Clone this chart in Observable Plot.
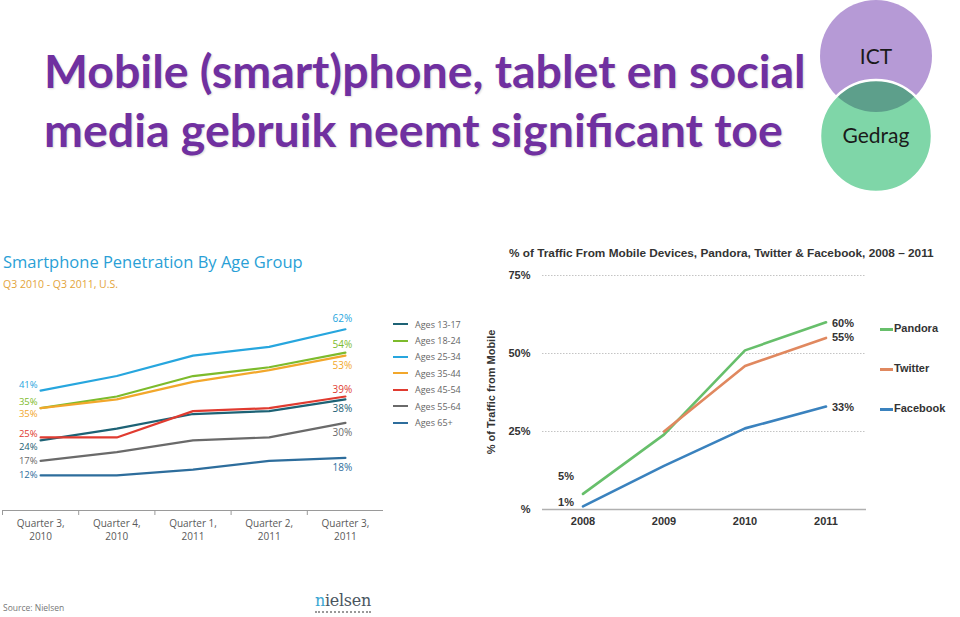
<!DOCTYPE html>
<html>
<head>
<meta charset="utf-8">
<script src="https://cdn.jsdelivr.net/npm/d3@7"></script>
<script src="https://cdn.jsdelivr.net/npm/@observablehq/plot@0.6"></script>
<style>
  html, body { margin: 0; padding: 0; background: #fff; }
  #page { position: relative; width: 960px; height: 617px; overflow: hidden; background: #fff; }
  .abs { position: absolute; }
  #title { left: 44px; top: 41px; font-family: Lato, sans-serif; font-weight: 700; font-size: 46.5px; line-height: 59px; color: #7030a0; text-shadow: 1px 1px 2px rgba(0,0,0,0.15); white-space: nowrap; }
  #ltitle { left: 3px; top: 250px; font-family: "Open Sans", sans-serif; font-size: 16.5px; color: #2a9fd6; white-space: nowrap; }
  #lsub { left: 3px; top: 277px; font-family: "Open Sans", sans-serif; font-size: 10.5px; color: #e3a43a; white-space: nowrap; }
  #lleg { left: 393px; top: 316px; font-family: "Open Sans", sans-serif; font-size: 9px; color: #666; }
  #lleg div, #rleg div { display: flex; align-items: center; white-space: nowrap; }
  #lleg div { height: 16.4px; }
  #lleg span.sw { display: inline-block; width: 15px; height: 2px; margin-right: 7px; }
  #rtitle { left: 509px; top: 246px; font-family: "Liberation Sans", Arial, sans-serif; font-weight: 700; font-size: 11.8px; color: #333; white-space: nowrap; }
  #rylabel { left: 491px; top: 392px; font-family: "Liberation Sans", Arial, sans-serif; font-weight: 700; font-size: 11px; color: #333; white-space: nowrap; transform: translate(-50%, -50%) rotate(-90deg); }
  #rleg { left: 880px; top: 322px; font-family: "Liberation Sans", Arial, sans-serif; font-weight: 700; font-size: 11px; color: #333; }
  #rleg div { height: 40px; align-items: flex-start; }
  #rleg span.sw { display: inline-block; width: 13px; height: 2.5px; margin-top: 6px; margin-right: 1px; }
  #source { left: 3px; top: 602px; font-family: "Open Sans", sans-serif; font-size: 8.5px; color: #777; }
  #logo { left: 315px; top: 592px; font-family: "DejaVu Serif", "Liberation Serif", serif; font-size: 16px; color: #4a5560; letter-spacing: -0.3px; border-bottom: 2px dotted #999; line-height: 18px; padding-bottom: 1px; }
  #logo .n { color: #3aa6d3; }
</style>
</head>
<body>
<div id="page">
  <div id="title" class="abs">Mobile (smart)phone, tablet en social<br>media gebruik neemt significant toe</div>

  <svg class="abs" style="left:804px;top:0" width="150" height="200">
    <defs>
      <clipPath id="clipG"><circle cx="72" cy="136" r="56"/></clipPath>
    </defs>
    <circle cx="72" cy="56" r="56" fill="#b69ad6"/>
    <circle cx="72" cy="136" r="56" fill="#7fd6a8"/>
    <circle cx="72" cy="56" r="56" fill="#5d9f8b" clip-path="url(#clipG)"/>
    <circle cx="72" cy="136" r="56" fill="none" stroke="#fff" stroke-width="2.5"/>
    <text x="72" y="64" text-anchor="middle" font-family="Lato, sans-serif" font-size="21" fill="#1a1a1a">ICT</text>
    <text x="72" y="143" text-anchor="middle" font-family="Lato, sans-serif" font-size="21" fill="#1a1a1a">Gedrag</text>
  </svg>

  <div id="ltitle" class="abs">Smartphone Penetration By Age Group</div>
  <div id="lsub" class="abs">Q3 2010 - Q3 2011, U.S.</div>
  <div id="left" class="abs" style="left:0;top:300px"></div>
  <div id="lleg" class="abs"></div>

  <div id="rtitle" class="abs">% of Traffic From Mobile Devices, Pandora, Twitter &amp; Facebook, 2008 – 2011</div>
  <div id="rylabel" class="abs">% of Traffic from Mobile</div>
  <div id="right" class="abs" style="left:480px;top:240px"></div>
  <div id="rleg" class="abs"></div>

  <div id="source" class="abs">Source: Nielsen</div>
  <div id="logo" class="abs"><span class="n">n</span>ielsen</div>
</div>
<script>
// ---------- Left chart data ----------
const quarters = ["Quarter 3,\n2010", "Quarter 4,\n2010", "Quarter 1,\n2011", "Quarter 2,\n2011", "Quarter 3,\n2011"];
const ageGroups = ["Ages 13-17", "Ages 18-24", "Ages 25-34", "Ages 35-44", "Ages 45-54", "Ages 55-64", "Ages 65+"];
const ages13_17 = [24, 28, 33, 34, 38];
const ages18_24 = [35, 39, 46, 49, 54];
const ages25_34 = [41, 46, 53, 56, 62];
const ages35_44 = [35, 38, 44, 48, 53];
const ages45_54 = [25, 25, 34, 35, 39];
const ages55_64 = [17, 20, 24, 25, 30];
const ages65plus = [12, 12, 14, 17, 18];

// ---------- Right chart data ----------
const years = [2008, 2009, 2010, 2011];
const sites = ["Pandora", "Twitter", "Facebook"];
const pandora = [5, 24, 51, 60];
const twitter = [null, 25, 46, 55];
const facebook = [1, 14, 26, 33];
const rightTicks = [0, 25, 50, 75];

// ---------- styles ----------
const ageColors = ["#1d6275", "#7dbb2c", "#27a6de", "#f2a72b", "#e03b30", "#6a6a6a", "#2d6d9c"];
const leftDy = [7, -6, -6, 6, -3, 0, 0];
const rightDy = [9, -8, -10, 10, -7, 10, 10];
const siteColors = ["#67bf6b", "#e0885f", "#3a82be"];
const siteEndDy = [1, 0, 1];
const siteStartDy = [-17, 0, -4];

const ageSeries = [ages13_17, ages18_24, ages25_34, ages35_44, ages45_54, ages55_64, ages65plus];
const ageData = ageGroups.flatMap((g, gi) => ageSeries[gi].map((v, qi) => ({group: g, gi, qi, value: v})));
const boundaries = d3.range(quarters.length).map(i => i - 0.5);
const lf = "'Open Sans', sans-serif";

const leftMarks = [
  Plot.ruleY([0], {stroke: "#9a9a9a", strokeWidth: 1.2}),
  Plot.axisX(boundaries, {tickSize: 5, tickFormat: () => "", stroke: "#9a9a9a", label: null}),
  Plot.axisX(d3.range(quarters.length), {tickSize: 0, tickPadding: 7, tickFormat: i => quarters[i], fontSize: 10, fill: "#5a5a5a", lineHeight: 1.3, fontFamily: lf, label: null}),
  Plot.line(ageData, {x: "qi", y: "value", z: "group", stroke: "group", strokeWidth: 2.2})
];
ageGroups.forEach((g, gi) => {
  const pts = ageData.filter(d => d.gi === gi);
  leftMarks.push(Plot.text(pts.filter(d => d.qi === 0), {x: "qi", y: "value", text: d => d.value + "%", fill: "group", textAnchor: "end", dx: -3, dy: leftDy[gi], fontSize: 9.5, fontFamily: lf}));
  leftMarks.push(Plot.text(pts.filter(d => d.qi === quarters.length - 1), {x: "qi", y: "value", text: d => d.value + "%", fill: "group", textAnchor: "middle", dx: -3, dy: rightDy[gi], fontSize: 10, fontFamily: lf}));
});

const leftPlot = Plot.plot({
  width: 385, height: 245,
  marginLeft: 2, marginRight: 2, marginTop: 20, marginBottom: 35,
  x: {type: "linear", domain: [-0.5, quarters.length - 0.5], axis: null},
  y: {domain: [0, 65], axis: null},
  color: {domain: ageGroups, range: ageColors},
  style: {background: "transparent", overflow: "visible"},
  marks: leftMarks
});
document.getElementById("left").appendChild(leftPlot);

const lleg = document.getElementById("lleg");
ageGroups.forEach((g, i) => {
  const row = document.createElement("div");
  row.innerHTML = `<span class="sw" style="background:${ageColors[i]}"></span>${g}`;
  lleg.appendChild(row);
});

// ---------- Right chart ----------
const siteSeries = [pandora, twitter, facebook];
const siteData = sites.flatMap((s, si) => siteSeries[si].map((v, yi) => ({site: s, si, year: years[yi], value: v})));
const rf = "'Liberation Sans', Arial, sans-serif";
const drawOrder = [2, 0, 1];
const rightMarks = [
  Plot.ruleY(rightTicks.filter(t => t > 0), {stroke: "#c4c4c4", strokeDasharray: "1.5,1.5"}),
  Plot.ruleY([0], {stroke: "#b0b0b0", strokeWidth: 1.5}),
  Plot.axisY(rightTicks, {tickSize: 0, tickPadding: 12, tickFormat: d => d === 0 ? "%" : d + "%", fontSize: 11, fontWeight: "bold", fill: "#333", fontFamily: rf, label: null}),
  Plot.axisX(years, {tickSize: 0, tickPadding: 8, tickFormat: d => String(d), fontSize: 11, fontWeight: "bold", fill: "#333", fontFamily: rf, label: null}),
  ...drawOrder.map(si => Plot.line(siteData.filter(d => d.si === si && d.value != null), {x: "year", y: "value", stroke: "site", strokeWidth: 2.6}))
];
sites.forEach((s, si) => {
  const pts = siteData.filter(d => d.si === si && d.value != null);
  rightMarks.push(Plot.text(pts.slice(-1), {x: "year", y: "value", text: d => d.value + "%", textAnchor: "start", dx: 6, dy: siteEndDy[si], fontSize: 11, fontWeight: "bold", fill: "#333", fontFamily: rf}));
  if (pts[0].year === years[0]) {
    rightMarks.push(Plot.text(pts.slice(0, 1), {x: "year", y: "value", text: d => d.value + "%", textAnchor: "end", dx: -9, dy: siteStartDy[si], fontSize: 11, fontWeight: "bold", fill: "#333", fontFamily: rf}));
  }
});
const rightPlot = Plot.plot({
  width: 480, height: 300,
  marginLeft: 62, marginRight: 94, marginTop: 35, marginBottom: 31,
  x: {domain: [years[0] - 0.5, years[years.length - 1] + 0.5], axis: null},
  y: {domain: [0, 75], axis: null},
  color: {domain: sites, range: siteColors},
  style: {background: "transparent", overflow: "visible"},
  marks: rightMarks
});
document.getElementById("right").appendChild(rightPlot);

const rleg = document.getElementById("rleg");
sites.forEach((s, i) => {
  const row = document.createElement("div");
  row.innerHTML = `<span class="sw" style="background:${siteColors[i]}"></span>${s}`;
  rleg.appendChild(row);
});
</script>
</body>
</html>
